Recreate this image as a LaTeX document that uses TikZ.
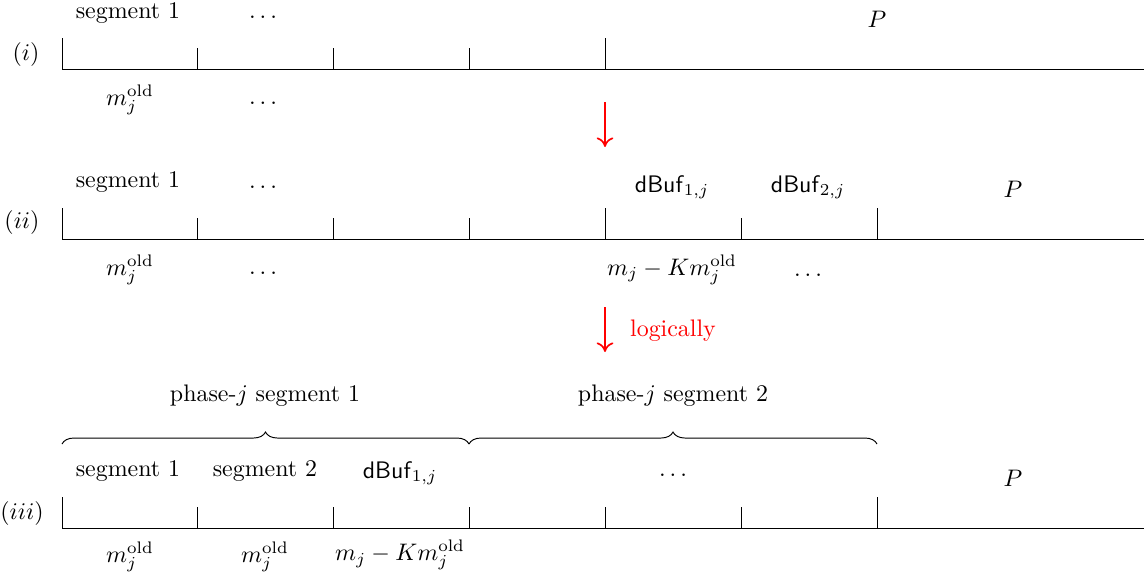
\documentclass[tikz,border=0pt]{standalone}
\usetikzlibrary{arrows.meta,decorations.pathreplacing}
\begin{document}
\begin{tikzpicture}[x=0.4183pt,y=-0.4183pt,
  lbl/.style={inner sep=0pt,anchor=center},
  redarrow/.style={red,line width=0.7pt,-{To[length=4pt,width=7pt]}},
  brc/.style={decorate,decoration={brace,amplitude=5pt}}]
\useasboundingbox (0,0) rectangle (1144,577);
% row (i)
\draw (62,69) -- (1144,69);
\foreach \x in {62,605} \draw (\x,38) -- (\x,69);
\foreach \x in {197,333,469} \draw (\x,48) -- (\x,69);
\node[lbl] (ri) at (26,55) {$(i)$};
\node[lbl] (s1a) at (128,13) {segment 1};
\node[lbl] (d1a) at (263,17) {$\dots$};
\node[lbl] (pa) at (877,19) {$P$};
\node[lbl] (m1a) at (130,100) {$m_j^{\mathrm{old}}$};
\node[lbl] (d2a) at (263,103) {$\dots$};
% arrow 1
\coordinate (a1s) at (605,102);
\coordinate (a1e) at (605,147);
\draw[redarrow] (a1s) -- (a1e);
% row (ii)
\draw (62,239) -- (1144,239);
\foreach \x in {62,605,877} \draw (\x,208) -- (\x,239);
\foreach \x in {197,333,469,741} \draw (\x,218) -- (\x,239);
\node[lbl] (rii) at (22,223) {$(ii)$};
\node[lbl] (s1b) at (128,182) {segment 1};
\node[lbl] (d1b) at (263,187) {$\dots$};
\node[lbl] (b1b) at (672,187) {\textsf{dBuf}$_{1,j}$};
\node[lbl] (b2b) at (808,187) {\textsf{dBuf}$_{2,j}$};
\node[lbl] (pb) at (1013,189) {$P$};
\node[lbl] (m1b) at (130,270) {$m_j^{\mathrm{old}}$};
\node[lbl] (d2b) at (263,273) {$\dots$};
\node[lbl] (kb) at (672,270) {$m_j - Km_j^{\mathrm{old}}$};
\node[lbl] (d3b) at (808,275) {$\dots$};
% arrow 2
\coordinate (a2s) at (605,307);
\coordinate (a2e) at (605,352);
\draw[redarrow] (a2s) -- (a2e);
\node[lbl,red] (lg) at (673,331) {logically};
% row (iii)
\draw (62,528) -- (1144,528);
\foreach \x in {62,877} \draw (\x,497) -- (\x,528);
\foreach \x in {197,333,469,605,741} \draw (\x,507) -- (\x,528);
\node[lbl] (riii) at (22,514) {$(iii)$};
\coordinate (bA) at (62,444);
\coordinate (bB) at (469,444);
\coordinate (bC) at (877,444);
\draw[brc] (bA) -- (bB);
\draw[brc] (bB) -- (bC);
\node[lbl] (ph1) at (265,396) {phase-$j$ segment 1};
\node[lbl] (ph2) at (673,396) {phase-$j$ segment 2};
\node[lbl] (s1c) at (128,471) {segment 1};
\node[lbl] (s2c) at (265,471) {segment 2};
\node[lbl] (b1c) at (400,473) {\textsf{dBuf}$_{1,j}$};
\node[lbl] (d1c) at (673,475) {$\dots$};
\node[lbl] (pc) at (1013,478) {$P$};
\node[lbl] (m1c) at (130,557) {$m_j^{\mathrm{old}}$};
\node[lbl] (m2c) at (265,557) {$m_j^{\mathrm{old}}$};
\node[lbl] (kc) at (400,555) {$m_j - Km_j^{\mathrm{old}}$};
\end{tikzpicture}
\end{document}
